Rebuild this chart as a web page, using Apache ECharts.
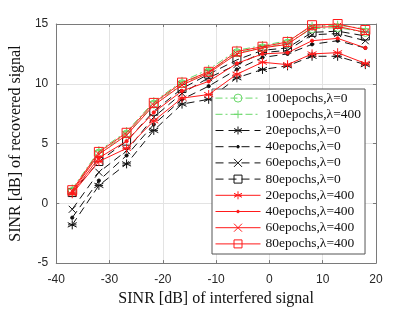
<!DOCTYPE html>
<html>
<head>
<meta charset="utf-8">
<script src="https://cdn.jsdelivr.net/npm/echarts@6/dist/echarts.min.js"></script>
<style>html,body{margin:0;padding:0;background:#fff}#c{width:415px;height:312px}</style>
</head>
<body>
<div id="c"></div>
<script>
var xValues = [-37, -32, -26.8, -21.7, -16.4, -11.4, -6.1, -1.3, 3.4, 8, 12.8, 18];
var xTicks = [-40, -30, -20, -10, 0, 10, 20];
var yTicks = [-5, 0, 5, 10, 15];

var ep100L0   = [1.0, 4.2, 5.8, 8.3, 10.0, 11.0, 12.6, 13.0, 13.4, 14.6, 14.7, 14.3];
var ep100L400 = [1.2, 4.4, 6.0, 8.5, 10.2, 11.2, 12.8, 13.2, 13.6, 14.8, 14.9, 14.6];
var ep20L0    = [-1.8, 1.5, 3.3, 6.1, 8.3, 8.7, 10.5, 11.2, 11.5, 12.3, 12.3, 11.6];
var ep40L0    = [-1.2, 1.9, 4.0, 6.6, 8.7, 9.8, 11.2, 12.2, 12.5, 13.3, 13.6, 13.0];
var ep60L0    = [-0.5, 2.6, 4.4, 7.2, 9.2, 10.5, 11.6, 12.6, 12.8, 14.1, 14.2, 13.6];
var ep80L0    = [0.9, 3.5, 5.2, 7.7, 9.6, 10.8, 12.0, 12.8, 13.0, 14.3, 14.4, 14.0];
var ep20L400  = [0.8, 3.5, 4.6, 6.9, 8.8, 9.1, 10.8, 11.8, 11.6, 12.5, 12.6, 11.7];
var ep40L400  = [0.9, 3.8, 5.2, 7.6, 9.4, 10.2, 11.7, 12.5, 12.6, 13.6, 13.8, 13.0];
var ep60L400  = [1.0, 4.1, 5.7, 8.2, 9.9, 10.9, 12.5, 13.0, 13.3, 14.7, 14.8, 14.3];
var ep80L400  = [1.1, 4.3, 5.9, 8.4, 10.1, 11.0, 12.7, 13.1, 13.5, 14.9, 15.0, 14.5];

var names = ['100epochs,\u03bb=0', '100epochs,\u03bb=400', '20epochs,\u03bb=0', '40epochs,\u03bb=0',
  '60epochs,\u03bb=0', '80epochs,\u03bb=0', '20epochs,\u03bb=400', '40epochs,\u03bb=400',
  '60epochs,\u03bb=400', '80epochs,\u03bb=400'];
var values = [ep100L0, ep100L400, ep20L0, ep40L0, ep60L0, ep80L0, ep20L400, ep40L400, ep60L400, ep80L400];

var GREEN = '#6ad86a', BLACK = '#111111', RED = '#ff1a1a';
var ASTER = 'path://M5,0L5,10M0.7,2.5L9.3,7.5M0.7,7.5L9.3,2.5M1,5L9,5';
var XMARK = 'path://M0,0L10,10M0,10L10,0';
var PLUS = 'path://M5,0L5,10M0,5L10,5';
var SQUARE = 'path://M0,0L10,0L10,10L0,10Z';
var CIRCLE = 'path://M10,5A5,5,0,1,1,0,5A5,5,0,1,1,10,5Z';
var DOT = 'path://M0,0M10,10M6.6,5A1.6,1.6,0,1,1,3.4,5A1.6,1.6,0,1,1,6.6,5Z';
var styles = [
  {c: GREEN, dash: [7, 3, 2, 3], sym: CIRCLE, size: 8, fill: false},
  {c: GREEN, dash: [7, 3, 2, 3], sym: PLUS, size: 9, fill: false},
  {c: BLACK, dash: [8, 5], sym: ASTER, size: 9, fill: false},
  {c: BLACK, dash: [8, 5], sym: DOT, size: 10, fill: true},
  {c: BLACK, dash: [8, 5], sym: XMARK, size: 7, fill: false},
  {c: BLACK, dash: [8, 5], sym: SQUARE, size: 8, fill: false},
  {c: RED, dash: 'solid', sym: ASTER, size: 9, fill: false},
  {c: RED, dash: 'solid', sym: DOT, size: 10, fill: true},
  {c: RED, dash: 'solid', sym: XMARK, size: 7, fill: false},
  {c: RED, dash: 'solid', sym: SQUARE, size: 9, fill: false}
];

var series = names.map(function (n, i) {
  var s = styles[i];
  return {
    name: n, type: 'line', xAxisIndex: 0, yAxisIndex: 0,
    data: xValues.map(function (x, j) { return [x, values[i][j]]; }),
    symbol: s.sym, symbolSize: s.size, showSymbol: true,
    lineStyle: {color: s.c, width: 1, type: s.dash},
    itemStyle: {color: s.fill ? s.c : 'rgba(0,0,0,0)', borderColor: s.c, borderWidth: 1},
    emphasis: {disabled: true}, animation: false, z: i < 2 ? 3 : (i < 6 ? 2 : 4)
  };
});

var tickFont = {fontFamily: 'Liberation Sans', fontSize: 12, color: '#262626'};
var nameFont = {fontFamily: 'Liberation Serif', fontSize: 16, color: '#111'};
var axLine = {show: true, onZero: false, lineStyle: {color: '#7a7a7a', width: 1}};
var axTick = {show: true, inside: true, length: 3, lineStyle: {color: '#7a7a7a'}};
var split = {show: true, lineStyle: {color: '#e3e3e3', width: 1}};

var chart = echarts.init(document.getElementById('c'), null, {renderer: 'canvas'});
chart.setOption({
  animation: false,
  backgroundColor: '#fff',
  grid: {left: 54, right: 39, top: 24, bottom: 46, containLabel: false},
  xAxis: [{
    type: 'value', min: xTicks[0], max: xTicks[xTicks.length - 1], interval: 10,
    position: 'bottom', axisLine: axLine, axisTick: axTick, splitLine: split,
    axisLabel: Object.assign({margin: 11}, tickFont),
    name: 'SINR [dB] of interfered signal', nameLocation: 'middle', nameGap: 23, nameTextStyle: nameFont
  }, {
    type: 'value', min: xTicks[0], max: xTicks[xTicks.length - 1], interval: 10,
    position: 'top', axisLine: axLine, axisTick: axTick, splitLine: {show: false}, axisLabel: {show: false}
  }],
  yAxis: [{
    type: 'value', min: yTicks[0], max: yTicks[yTicks.length - 1], interval: 5,
    position: 'left', axisLine: axLine, axisTick: axTick, splitLine: split,
    axisLabel: Object.assign({margin: 8}, tickFont),
    name: 'SINR [dB] of recovered signal', nameLocation: 'middle', nameGap: 26, nameTextStyle: nameFont
  }, {
    type: 'value', min: yTicks[0], max: yTicks[yTicks.length - 1], interval: 5,
    position: 'right', axisLine: axLine, axisTick: axTick, splitLine: {show: false}, axisLabel: {show: false}
  }],
  legend: {
    data: names, orient: 'vertical', left: 212, top: 89,
    backgroundColor: '#fff', borderColor: '#555', borderWidth: 1, borderRadius: 0,
    padding: [1, 4, 2, 3], itemGap: 0, itemWidth: 45, itemHeight: 10,
    lineStyle: {width: 1},
    itemStyle: {borderWidth: 1},
    textStyle: {fontFamily: 'Liberation Serif', fontSize: 13.5, color: '#111', lineHeight: 16.2},
    selectedMode: false
  },
  series: series
});
</script>
</body>
</html>
